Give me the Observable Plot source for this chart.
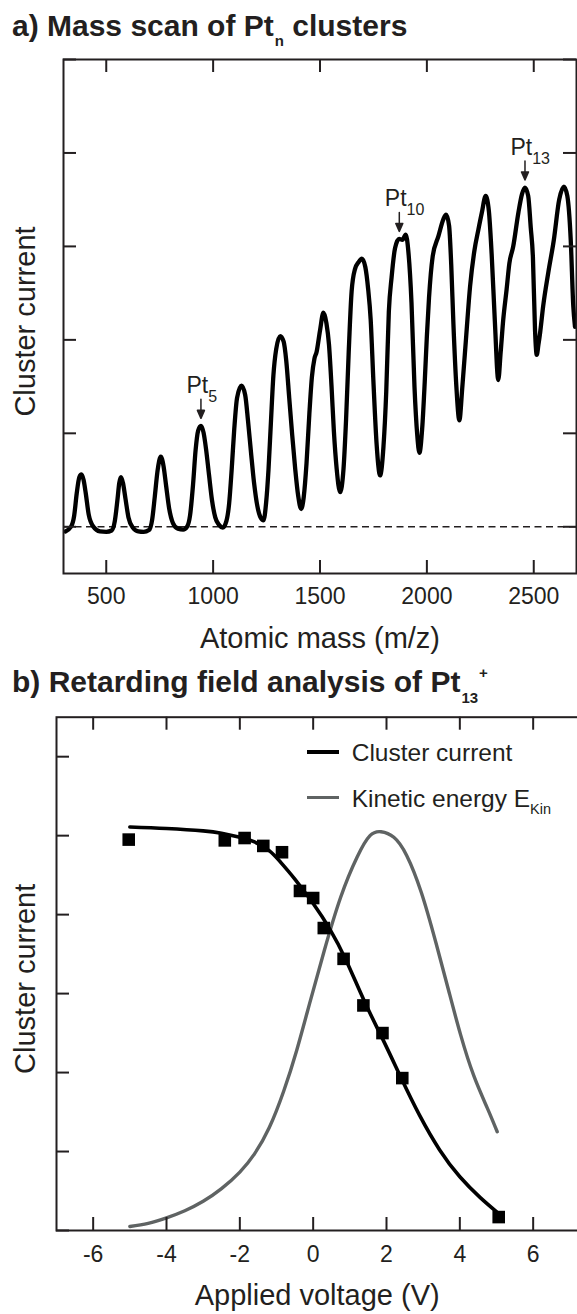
<!DOCTYPE html>
<html>
<head>
<meta charset="utf-8">
<script src="https://cdn.jsdelivr.net/npm/d3@7"></script>
<script src="https://cdn.jsdelivr.net/npm/@observablehq/plot@0.6"></script>
<style>
html, body { margin: 0; padding: 0; background: #fff; }
#page { position: relative; width: 577px; height: 1314px; overflow: hidden; background: #fff;
  font-family: "Liberation Sans", Arial, Helvetica, sans-serif; color: #231f20; }
.title { position: absolute; left: 12px; font-weight: bold; font-size: 30px; line-height: 1; white-space: nowrap; z-index: 2; }
.sub { position: relative; }
.leg { position: absolute; font-size: 24.5px; line-height: 1; white-space: nowrap; z-index: 2; }
.legline { position: absolute; z-index: 2; }
#pa { position: absolute; left: 0; top: 0; width: 577px; height: 665px; overflow: visible; }
#pb { position: absolute; left: 0; top: 700px; width: 606px; height: 614px; overflow: visible; }
#pa svg, #pb svg { max-width: none !important; display: block; }
</style>
</head>
<body>
<div id="page">
  <div id="pa"></div>
  <div id="pb"></div>
  <div class="title" style="top:10.6px">a) Mass scan of Pt<span class="sub" style="font-size:15px; top:10px; margin-left:1px">n</span> clusters</div>
  <div class="title" style="top:666.6px">b) Retarding field analysis of Pt<span class="sub" style="font-size:15px; top:11px; margin-left:1px">13</span><span class="sub" style="font-size:15px; top:-14px; margin-left:1px">+</span></div>
  <div class="legline" style="left:306.7px; top:749.7px; width:32.6px; height:4px; background:#000"></div>
  <div class="leg" style="left:351.7px; top:741px">Cluster current</div>
  <div class="legline" style="left:306.7px; top:795.6px; width:32.6px; height:3.4px; background:#5f6363"></div>
  <div class="leg" style="left:351.7px; top:786.6px">Kinetic energy E<span class="sub" style="font-size:14.5px; top:7px">Kin</span></div>
</div>
<script>
// ---------- Panel a: mass scan ----------
const massTicks = [500, 1000, 1500, 2000, 2500];
const currentTicksA = [0, 1, 2, 3, 4, 5];
const mass = [
  309, 335, 350, 362, 374, 384, 394, 404, 418, 440, 470, 500, 525,
  540, 552, 561, 569, 578, 590, 604, 625, 650, 675, 700,
  715, 727, 740, 755, 768, 780, 794, 812, 835, 860,
  878, 892, 906, 918, 930, 943, 955, 967, 981, 995, 1010, 1028, 1045,
  1062, 1075, 1087, 1099, 1112, 1133, 1150, 1163, 1177, 1192, 1207, 1222, 1236,
  1248, 1259, 1270, 1282, 1295, 1314, 1330, 1342, 1356, 1370, 1384, 1398, 1412,
  1424, 1437, 1450, 1462, 1474, 1484, 1500, 1516, 1530, 1542, 1554, 1565, 1578, 1594,
  1610, 1622, 1634, 1648, 1664, 1680, 1696, 1712, 1725, 1737, 1750, 1765, 1781,
  1797, 1810, 1822, 1835, 1851, 1870, 1885, 1901, 1914, 1928, 1942, 1955, 1965,
  1978, 1990, 2000, 2010, 2027, 2054, 2077, 2090, 2104, 2114, 2124, 2138, 2152,
  2166, 2184, 2202, 2222, 2241, 2257, 2275, 2290, 2303, 2318, 2334,
  2345, 2357, 2373, 2386, 2404, 2428, 2445, 2459, 2474, 2486, 2496, 2506, 2514,
  2522, 2530, 2544, 2568, 2594, 2619, 2641, 2657, 2673, 2685, 2693
];
const signal = [
  -0.05, 0.0, 0.12, 0.36, 0.53, 0.56, 0.50, 0.36, 0.13, 0.0, -0.05, -0.055, -0.04,
  0.06, 0.28, 0.47, 0.53, 0.47, 0.30, 0.10, -0.01, -0.05, -0.055, -0.035,
  0.08, 0.32, 0.60, 0.75, 0.65, 0.44, 0.20, 0.04, -0.02, -0.03,
  0.0, 0.12, 0.45, 0.82, 1.03, 1.08, 1.01, 0.83, 0.55, 0.28, 0.10, 0.02, -0.01,
  0.06, 0.25, 0.62, 1.05, 1.38, 1.51, 1.41, 1.14, 0.80, 0.46, 0.22, 0.10, 0.07,
  0.26, 0.61, 1.10, 1.62, 1.90, 2.04, 1.98, 1.78, 1.38, 0.98, 0.62, 0.33, 0.19,
  0.32, 0.68, 1.20, 1.60, 1.80, 1.87, 2.10, 2.29, 2.18, 1.95, 1.50, 1.02, 0.62, 0.37,
  0.62, 1.15, 1.85, 2.52, 2.76, 2.83, 2.87, 2.78, 2.55, 2.22, 1.55, 0.88, 0.55,
  0.86, 1.45, 2.30, 2.67, 2.98, 3.08, 3.07, 3.125, 2.93, 2.40, 1.50, 0.98, 0.79,
  1.05, 1.55, 2.04, 2.45, 2.89, 3.11, 3.29, 3.34, 3.22, 2.80, 2.18, 1.50, 1.14,
  1.50, 2.04, 2.57, 2.95, 3.18, 3.36, 3.54, 3.38, 2.92, 2.20, 1.57,
  1.86, 2.21, 2.54, 2.82, 3.00, 3.36, 3.56, 3.63, 3.54, 3.20, 2.89, 2.10, 1.84,
  1.95, 2.08, 2.36, 2.72, 3.07, 3.50, 3.64, 3.54, 3.07, 2.36, 2.14
];
const peakNames = ["5", "10", "13"];
const peakMass = [943, 1871, 2459];
const peakValue = [1.08, 3.08, 3.63];

// ---------- Panel b: retarding field ----------
const voltTicks = [-6, -4, -2, 0, 2, 4, 6];
const currentTicksB = [0, 1, 2, 3, 4, 5, 6];
const measV = [-5.03, -2.41, -1.87, -1.36, -0.85, -0.36, 0.0, 0.29, 0.83, 1.37, 1.89, 2.43, 5.06];
const measI = [4.95, 4.94, 4.97, 4.87, 4.79, 4.30, 4.21, 3.83, 3.44, 2.85, 2.50, 1.93, 0.17];
const fitV = [-5.0, -4.0, -3.0, -2.5, -2.0, -1.6, -1.2, -0.9, -0.5, 0.0, 0.45, 0.9, 1.4, 1.9, 2.4, 2.9, 3.45, 4.0, 4.55, 5.02];
const fitI = [5.11, 5.09, 5.06, 5.03, 4.98, 4.92, 4.81, 4.67, 4.45, 4.14, 3.82, 3.42, 2.90, 2.42, 1.93, 1.46, 1.02, 0.68, 0.42, 0.23];
const ekinV = [-5.0, -4.5, -4.0, -3.5, -3.0, -2.5, -2.0, -1.6, -1.2, -0.8, -0.45, -0.1, 0.3, 0.75, 1.2, 1.55, 1.85, 2.2, 2.55, 2.95, 3.35, 3.7, 4.02, 4.38, 4.75, 5.02];
const ekinI = [0.05, 0.09, 0.16, 0.25, 0.37, 0.53, 0.74, 0.97, 1.30, 1.77, 2.28, 2.87, 3.54, 4.22, 4.73, 5.0, 5.05, 4.98, 4.75, 4.28, 3.64, 3.03, 2.48, 1.96, 1.55, 1.25];

const FONT = '"Liberation Sans", Arial, Helvetica, sans-serif';
const INK = "#231f20";
const GRAY = "#5f6363";

const arrowShape = {
  draw(context, l) {
    context.moveTo(0, 0);
    context.lineTo(0, -l + 5);
    context.moveTo(0, -l);
    context.lineTo(-3.5, -l + 8);
    context.lineTo(3.5, -l + 8);
    context.closePath();
  }
};

function place(chart, host) {
  chart.style.position = "absolute";
  chart.style.top = "0px";
  chart.style.left = "0px";
  chart.style.maxWidth = "none";
  chart.style.overflow = "visible";
  document.getElementById(host).appendChild(chart);
}

// Panel a
const W_A = 577, H_A = 665, ML_A = 63, MR_A = 1, MT_A = 59, MB_A = 92;
const plotHA = H_A - MT_A - MB_A;
const plotWA = W_A - ML_A - MR_A;
const spec = mass.map((m, i) => ({m, v: signal[i]}));
const peaks = peakNames.map((n, i) => ({n, m: peakMass[i], v: peakValue[i]}));

const chartA = Plot.plot({
  width: W_A, height: H_A,
  marginLeft: ML_A, marginRight: MR_A, marginTop: MT_A, marginBottom: MB_A,
  style: {fontFamily: FONT, fontSize: "23px", color: INK, background: "transparent"},
  x: {domain: [300, 2700]},
  y: {domain: [-0.5, 5], axis: null},
  marks: [
    Plot.ruleY([0], {stroke: INK, strokeWidth: 1.5, strokeDasharray: "7,4.5"}),
    Plot.line(spec, {x: "m", y: "v", curve: "monotone-x", stroke: "#000", strokeWidth: 4.3, strokeLinejoin: "round", strokeLinecap: "round"}),
    Plot.frame({stroke: INK, strokeWidth: 2}),
    Plot.tickX(massTicks, {x: d => d, insetTop: plotHA - 13, stroke: INK, strokeWidth: 2}),
    Plot.tickX(massTicks, {x: d => d, insetBottom: plotHA - 13, stroke: INK, strokeWidth: 2}),
    Plot.tickY(currentTicksA, {y: d => d, insetRight: plotWA - 13, stroke: INK, strokeWidth: 2}),
    Plot.tickY(currentTicksA, {y: d => d, insetLeft: plotWA - 13, stroke: INK, strokeWidth: 2}),
    Plot.axisX(massTicks, {anchor: "bottom", tickSize: 0, tickPadding: 14, fontSize: 23, tickFormat: d => String(d), label: null}),
    Plot.text(["Atomic mass (m/z)"], {frameAnchor: "bottom", dy: 74, lineAnchor: "bottom", textAnchor: "middle", fontSize: 29, text: d => d}),
    Plot.text(["Cluster current"], {frameAnchor: "left", rotate: -90, dx: -29, dy: 5, lineAnchor: "bottom", textAnchor: "middle", fontSize: 29, text: d => d}),
    Plot.vector(peaks, {x: "m", y: "v", length: 19, rotate: 180, anchor: "end", dy: -7.5, shape: arrowShape, stroke: INK, fill: INK, strokeWidth: 1.5}),
    Plot.text(peaks, {x: "m", y: "v", text: () => "Pt", textAnchor: "start", lineAnchor: "bottom", dx: -14.5, dy: -33, fontSize: 23}),
    Plot.text(peaks, {x: "m", y: "v", text: "n", textAnchor: "start", lineAnchor: "bottom", dx: -14.5 + 21.7, dy: -24, fontSize: 16})
  ]
});
place(chartA, "pa");

// Panel b
const W_B = 606, H_B = 614, ML_B = 56, MR_B = 0, MT_B = 16.7, MB_B = 84;
const plotHB = H_B - MT_B - MB_B;
const plotWB = W_B - ML_B - MR_B;
const meas = measV.map((v, i) => ({v, c: measI[i]}));
const fit = fitV.map((v, i) => ({v, c: fitI[i]}));
const ekin = ekinV.map((v, i) => ({v, c: ekinI[i]}));

const chartB = Plot.plot({
  width: W_B, height: H_B,
  marginLeft: ML_B, marginRight: MR_B, marginTop: MT_B, marginBottom: MB_B,
  style: {fontFamily: FONT, fontSize: "23px", color: INK, background: "transparent"},
  x: {domain: [-7, 8]},
  y: {domain: [0, 6.5], axis: null},
  marks: [
    Plot.line(ekin, {x: "v", y: "c", curve: "natural", stroke: GRAY, strokeWidth: 3.4}),
    Plot.line(fit, {x: "v", y: "c", curve: "natural", stroke: "#000", strokeWidth: 3.6}),
    Plot.dot(meas, {x: "v", y: "c", symbol: "square", r: 7.1, fill: "#000", stroke: "none"}),
    Plot.frame({stroke: INK, strokeWidth: 2}),
    Plot.tickX(voltTicks, {x: d => d, insetTop: plotHB - 13, stroke: INK, strokeWidth: 2}),
    Plot.tickX(voltTicks, {x: d => d, insetBottom: plotHB - 13, stroke: INK, strokeWidth: 2}),
    Plot.tickY(currentTicksB, {y: d => d, insetRight: plotWB - 13, stroke: INK, strokeWidth: 2}),
    Plot.axisX(voltTicks, {anchor: "bottom", tickSize: 0, tickPadding: 15, fontSize: 23, tickFormat: d => String(d), label: null}),
    Plot.text(["Applied voltage (V)"], {frameAnchor: "bottom", dx: -14.3, dy: 74, lineAnchor: "bottom", textAnchor: "middle", fontSize: 29, text: d => d}),
    Plot.text(["Cluster current"], {frameAnchor: "left", rotate: -90, dx: -22, dy: 5, lineAnchor: "bottom", textAnchor: "middle", fontSize: 29, text: d => d})
  ]
});
place(chartB, "pb");
</script>
</body>
</html>
